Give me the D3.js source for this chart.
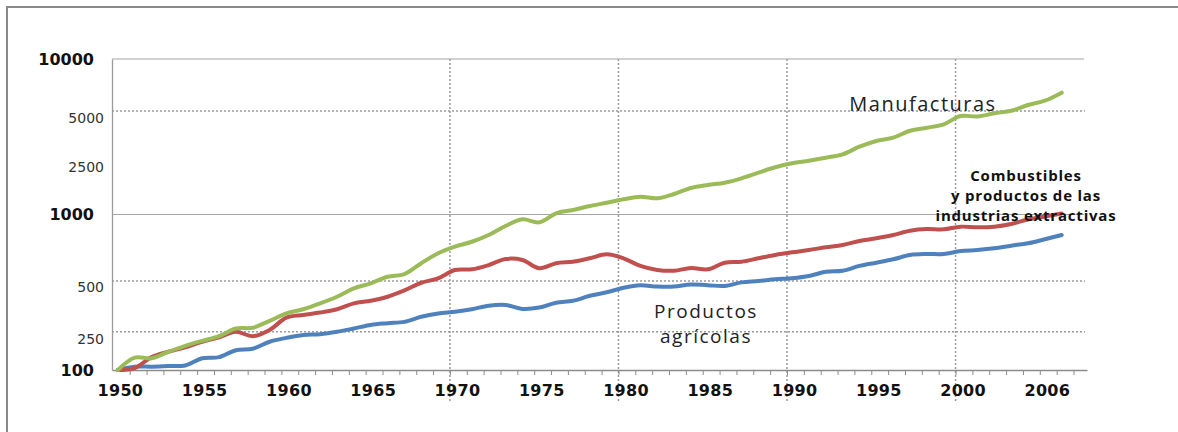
<!DOCTYPE html>
<head>
    <meta charset="utf-8">
    <script src="https://cdn.jsdelivr.net/npm/d3@7"></script>
    <title>Exportaciones mundiales por producto</title>
    <style>
        body { margin: 0; background: #fff; }
        svg { display: block; }
    </style>
</head>
<body>
    <div id="chart"></div>

    <script>
        // Years 1950..2006, one value per year (index, 1950 = 100)
        const years = d3.range(1950, 2007);

        const manufacturas = [100, 120, 119, 131, 143, 154, 165, 185, 187, 207,
            231, 246, 268, 296, 335, 361, 398, 414, 486, 563,
            621, 668, 738, 843, 931, 891, 1018, 1069, 1134, 1191,
            1252, 1302, 1271, 1355, 1480, 1548, 1602, 1709, 1857, 2012,
            2135, 2218, 2319, 2438, 2729, 2970, 3118, 3458, 3615, 3802,
            4299, 4267, 4475, 4650, 5060, 5393, 6072];

        const combustibles = [100, 103, 121, 131, 140, 152, 162, 176, 165, 181,
            217, 226, 234, 246, 268, 279, 296, 325, 364, 389,
            440, 444, 473, 517, 510, 451, 486, 497, 523, 555,
            523, 467, 440, 435, 453, 444, 490, 497, 523, 549,
            571, 591, 615, 637, 675, 703, 738, 787, 807, 803,
            835, 827, 835, 869, 929, 971, 1015];

        const agricolas = [100, 105, 105, 106, 107, 119, 121, 134, 137, 152,
            161, 168, 170, 176, 185, 195, 200, 204, 220, 231,
            237, 246, 259, 262, 247, 252, 271, 279, 300, 316,
            338, 351, 344, 344, 355, 351, 347, 366, 373, 383,
            389, 402, 429, 435, 467, 490, 515, 549, 557, 557,
            582, 591, 606, 630, 653, 693, 738];

        // x axis labels (the last one reads 2006 in the original)
        const xLabelYears = [1950, 1955, 1960, 1965, 1970, 1975, 1980, 1985, 1990, 1995, 2000, 2005];
        const xLabelText = ["1950", "1955", "1960", "1965", "1970", "1975", "1980", "1985", "1990", "1995", "2000", "2006"];
        const gridYears = [1970, 1980, 1990, 2000];

        // y axis: main log ticks plus the hand-placed labels of the original
        const yMainTicks = [100, 1000, 10000];
        const yExtraLabels = ["250", "500", "2500", "5000"];
        const yExtraLabelAt = [158, 342, 2030, 4194];
        const yDottedAt = [176, 373, 4630];

        const width = 1178, height = 432;
        const margin = { top: 59, left: 112, bottom: 370, right: 1087 };

        const svg = d3.select("#chart").append("svg")
            .attr("width", width)
            .attr("height", height);

        // outer chart frame (cut at the right and bottom)
        svg.append("rect")
            .attr("x", 7).attr("y", 7)
            .attr("width", 1300).attr("height", 600)
            .attr("fill", "none")
            .attr("stroke", "#8a8a8a")
            .attr("stroke-width", 2);

        const x = d3.scaleLinear()
            .domain([1949.65, 2007.5])
            .range([margin.left, margin.right]);

        const y = d3.scaleLog()
            .domain([100, 10000])
            .range([margin.bottom, margin.top]);

        // dotted guides
        svg.append("g")
            .selectAll("line")
            .data(yDottedAt)
            .enter().append("line")
            .attr("x1", margin.left).attr("x2", margin.right - 2)
            .attr("y1", d => y(d)).attr("y2", d => y(d))
            .attr("stroke", "#9a9a9a")
            .attr("stroke-width", 1.5)
            .attr("stroke-dasharray", "2,2");

        svg.append("g")
            .selectAll("line")
            .data(gridYears)
            .enter().append("line")
            .attr("x1", d => x(d - 0.3)).attr("x2", d => x(d - 0.3))
            .attr("y1", margin.top).attr("y2", 402)
            .attr("stroke", "#9a9a9a")
            .attr("stroke-width", 1.5)
            .attr("stroke-dasharray", "2,2");

        // solid gridlines at 1000 and 10000
        svg.append("g")
            .selectAll("line")
            .data([1000, 10000])
            .enter().append("line")
            .attr("x1", margin.left).attr("x2", margin.right - 3)
            .attr("y1", d => y(d)).attr("y2", d => y(d))
            .attr("stroke", "#a6a6a6")
            .attr("stroke-width", 1.2);

        // x axis: yearly tick marks and labels
        const xTicks = svg.append("g")
            .attr("transform", `translate(0,${margin.bottom})`)
            .call(d3.axisBottom(x)
                .tickValues(d3.range(1951, 2008).map(d => d - 0.3))
                .tickSize(5)
                .tickSizeOuter(0)
                .tickFormat(""));
        xTicks.select(".domain").attr("stroke", "#8c8c8c").attr("stroke-width", 1.3);
        xTicks.selectAll(".tick line").attr("stroke", "#8c8c8c");

        const xLabels = svg.append("g")
            .attr("transform", `translate(0,${margin.bottom})`)
            .call(d3.axisBottom(x)
                .tickValues(xLabelYears)
                .tickSize(0)
                .tickPadding(15)
                .tickFormat((d, i) => xLabelText[i]));
        xLabels.select(".domain").remove();
        xLabels.selectAll("text")
            .attr("font-family", "DejaVu Sans")
            .attr("font-weight", "bold")
            .attr("font-size", 16)
            .attr("letter-spacing", 0.3)
            .attr("fill", "#111")
            .attr("dx", 2);

        // y axis
        const yAxis = svg.append("g")
            .attr("transform", `translate(${margin.left},0)`)
            .call(d3.axisLeft(y)
                .tickValues(yMainTicks)
                .tickSize(0)
                .tickPadding(18)
                .tickFormat(d3.format("d")));
        yAxis.select(".domain").attr("stroke", "#9a9a9a").attr("stroke-width", 1.3);
        yAxis.selectAll("text")
            .attr("font-family", "DejaVu Sans")
            .attr("font-weight", "bold")
            .attr("font-size", 16)
            .attr("fill", "#111");

        svg.append("g")
            .selectAll("text")
            .data(yExtraLabels)
            .enter().append("text")
            .attr("x", 104)
            .attr("y", (d, i) => y(yExtraLabelAt[i]))
            .attr("dy", "0.36em")
            .attr("text-anchor", "end")
            .attr("font-family", "DejaVu Sans")
            .attr("font-size", 14)
            .attr("fill", "#333")
            .text(d => d);

        // series
        const series = [
            { name: "agricolas", values: agricolas, color: "#4f81bd" },
            { name: "combustibles", values: combustibles, color: "#c0504d" },
            { name: "manufacturas", values: manufacturas, color: "#9bbb59" }
        ];

        const line = d3.line()
            .x((d, i) => x(years[i]))
            .y(d => y(d))
            .curve(d3.curveCatmullRom.alpha(0.5));

        svg.append("g")
            .selectAll("path")
            .data(series)
            .enter().append("path")
            .attr("d", d => line(d.values))
            .attr("fill", "none")
            .attr("stroke", d => d.color)
            .attr("stroke-width", 4)
            .attr("stroke-linecap", "round")
            .attr("stroke-linejoin", "round");

        // annotations
        svg.append("text")
            .attr("x", 923).attr("y", 111)
            .attr("text-anchor", "middle")
            .attr("font-family", "Open Sans")
            .attr("font-size", 20)
            .attr("letter-spacing", 1.5)
            .attr("fill", "#222")
            .text("Manufacturas");

        const prod = svg.append("text")
            .attr("text-anchor", "middle")
            .attr("font-family", "Open Sans")
            .attr("font-size", 19)
            .attr("letter-spacing", 1.5)
            .attr("fill", "#222");
        prod.append("tspan").attr("x", 706).attr("y", 318).text("Productos");
        prod.append("tspan").attr("x", 706).attr("y", 343).text("agrícolas");

        const comb = svg.append("text")
            .attr("text-anchor", "middle")
            .attr("font-family", "Open Sans")
            .attr("font-weight", "bold")
            .attr("font-size", 15)
            .attr("letter-spacing", 0.8)
            .attr("fill", "#111");
        comb.append("tspan").attr("x", 1026).attr("y", 181).text("Combustibles");
        comb.append("tspan").attr("x", 1026).attr("y", 201).text("y productos de las");
        comb.append("tspan").attr("x", 1026).attr("y", 221).text("industrias extractivas");
    </script>
</body>
